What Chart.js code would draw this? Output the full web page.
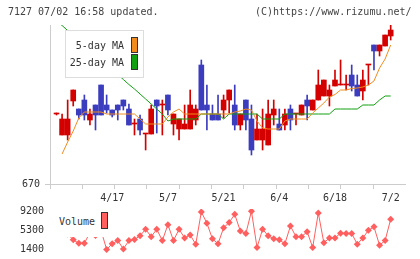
<!DOCTYPE html>
<html><head><meta charset="utf-8">
<script src="https://cdn.jsdelivr.net/npm/chart.js@4.4.1/dist/chart.umd.min.js"></script>
<style>
html,body{margin:0;padding:0;background:#fff;}
#wrap{position:relative;width:420px;height:259px;overflow:hidden;font-family:"DejaVu Sans Mono",monospace;font-size:10px;color:#333;}
canvas{position:absolute;left:0;}
.t{position:absolute;white-space:pre;line-height:12px;}
.box{position:absolute;background:#fff;box-sizing:border-box;}
.sw{position:absolute;border:1px solid #333;box-sizing:border-box;}
</style></head>
<body><div id="wrap">
<canvas id="c1" width="420" height="205" style="top:0;width:420px;height:205px"></canvas>
<canvas id="c2" width="420" height="54" style="top:205px;width:420px;height:54px"></canvas>
<div class="t" style="left:8px;top:6px;color:#444">7127 07/02 16:58 updated.</div>
<div class="t" style="left:255px;top:6px;color:#444">(C)https://www.rizumu.net/</div>
<div class="box" style="left:65px;top:30px;width:79px;height:48px;border:1px solid #ddd"></div>
<div class="t" style="left:0;width:124px;text-align:right;top:40px;color:#333">5-day MA</div>
<div class="sw" style="left:131px;top:37px;width:7px;height:16px;background:#f08c1e"></div>
<div class="t" style="left:0;width:124px;text-align:right;top:57px;color:#333">25-day MA</div>
<div class="sw" style="left:131px;top:54px;width:7px;height:16px;background:#10a010"></div>
<div class="box" style="left:52px;top:205px;width:60px;height:32px"></div>
<div class="t" style="left:59px;top:216px;color:#333">Volume</div>
<div class="sw" style="left:101px;top:212px;width:7px;height:17px;background:#ff5f5f"></div>
</div>
<script>
const dates = ['4/3','4/6','4/7','4/8','4/9','4/10','4/13','4/14','4/15','4/16',
 '4/17','4/20','4/21','4/22','4/23','4/24','4/27','4/28','4/30','5/1',
 '5/7','5/8','5/11','5/12','5/13','5/14','5/15','5/18','5/19','5/20',
 '5/21','5/22','5/25','5/26','5/27','5/28','5/29','6/1','6/2','6/3',
 '6/4','6/5','6/8','6/9','6/10','6/11','6/12','6/15','6/16','6/17',
 '6/18','6/19','6/22','6/23','6/24','6/25','6/26','6/29','6/30','7/1','7/2'];
const labelDates = ['4/17','5/7','5/21','6/4','6/18','7/2'];
const priceTicks = [670];
const volumeTicks = [1400, 5300, 9200];

const open = [740,719,719,753,745,754,734,749,769,749, 744,749,754,745,730,735,720,720,754,749,
 759,730,725,725,725,734,789,749,740,740, 744,754,749,729,754,735,714,714,709,739,
 730,729,745,740,739,754,744,754,758,758, 768,769,769,779,769,763,789,809,803,808, 818];
const high = [741,740,754,764,745,759,745,749,769,759, 744,749,754,750,735,739,720,749,754,754,
 759,740,735,749,764,749,794,769,749,759, 759,764,769,740,754,749,740,745,754,754,
 745,745,749,740,749,759,754,784,774,769, 784,794,779,789,779,784,789,809,809,819, 829];
const low = [739,719,714,748,735,734,729,724,739,741, 737,734,744,729,719,719,704,720,721,719,
 739,719,714,725,725,729,744,724,734,734, 736,741,724,724,724,699,714,704,709,729,
 724,724,724,729,739,734,744,754,758,748, 768,769,764,763,758,754,769,784,798,808, 814];
const close = [740,735,735,764,739,739,740,739,739,744, 739,744,748,729,730,724,720,745,748,749,
 744,740,735,730,749,745,744,744,734,734, 754,764,729,740,734,704,725,725,740,745,
 724,740,734,740,749,748,754,769,774,764, 774,769,769,768,758,774,789,803,809,819, 824];
const ma5 = [null,700,712,723,736,742,742,742,742,740, 740,740,740,740,740,735,730,730,730,730,
 737,742,745,740,740,740,740,740,740,740, 740,740,742,743,745,744,733,726,725,725,
 725,733,735,735,735,735,741,746,751,757, 759.5,764,764,765.5,766,767,769,773,786,795, 809];
const ma25 = [833,828.5,823.5,818.5,814,809,804,799,794,789, 784,779.5,774.5,769.5,765,760,755,750,745,740,
 733,735,735,735,735,735,740,740,740,740, 735,740,740,740,740,740,740,735,735,735,
 735,740,740,740,740,740,740,740,740,740, 745,745,745,745,745,749,749,749,754,758, 758];
const volume = [5000,4600,4500,3300,2600,2600,4800,4200,5200,1350, 2500,3150,1450,3150,3350,4150,5450,3950,5450,3150,
 6400,3150,5450,3700,4300,2400,9000,6700,3500,2500, 5750,6850,8500,5100,4600,9150,1750,5450,4150,3500,
 3300,2500,6100,3950,3950,4950,1750,8800,2700,3700, 3700,4650,4600,4600,2400,3700,5250,5950,2200,3150, 7500];

const RED = '#d40000', BLUE = '#3c3cbe';
const candleColor = dates.map((d,i) => close[i] >= open[i] ? RED : BLUE);
const labelIdx = labelDates.map(d => dates.indexOf(d));

Chart.defaults.font.family = "'DejaVu Sans Mono', monospace";
Chart.defaults.font.size = 10;
Chart.defaults.color = '#333';

const XMIN = -1.17, XMAX = 62.57;
const markStep = 5.8;
const markTicks = [];
for (let v = XMIN; v <= XMAX - 1; v += markStep) markTicks.push(v);
const noPad = ax => { ax.paddingTop = 0; ax.paddingBottom = 0; ax.paddingLeft = 0; ax.paddingRight = 0; };

new Chart(document.getElementById('c1'), {
  type: 'bar',
  data: {
    datasets: [
      { type:'line', label:'5-day MA', data: ma5.map((v,i)=>({x:i,y:v})), borderColor:'#f08c1e', borderWidth:1, pointRadius:0, order:0 },
      { type:'line', label:'25-day MA', data: ma25.map((v,i)=>({x:i,y:v})), borderColor:'#10a010', borderWidth:1, pointRadius:0, order:0 },
      { label:'body', data: dates.map((d,i)=>({x:i,y:[open[i],close[i]]})), backgroundColor:candleColor, barThickness:5, minBarLength:1, grouped:false, order:1 },
      { label:'wick', data: dates.map((d,i)=>({x:i,y:[low[i],high[i]]})), backgroundColor:candleColor, barThickness:1, minBarLength:1, grouped:false, order:2 }
    ]
  },
  options: {
    responsive:false, devicePixelRatio:1, animation:false,
    layout:{ padding:{ top:25, right:15, bottom:0, left:0 } },
    plugins:{ legend:{display:false}, tooltip:{enabled:false} },
    scales:{
      x:{ type:'linear', min:XMIN, max:XMAX, offset:false,
        afterBuildTicks: ax => { ax.ticks = markTicks.concat(labelIdx).map(v=>({value:v})); },
        ticks:{ autoSkip:false, maxRotation:0, minRotation:0, padding:3, color:'#333',
          callback:(v)=>{ const k = labelIdx.indexOf(v); return k>=0 ? labelDates[k] : ''; } },
        grid:{ offset:false, drawOnChartArea:false, tickLength:5, color: c => (c.tick && labelIdx.includes(c.tick.value)) ? 'rgba(0,0,0,0)' : '#cccccc' },
        border:{ color:'#cccccc' },
        afterFit: ax => { ax.height = 21; noPad(ax); }
      },
      y:{ min:670, max:829, beginAtZero:false,
        afterBuildTicks: ax => { ax.ticks = priceTicks.map(v=>({value:v})); },
        ticks:{ padding:5, color:'#333', callback: v => String(v) },
        grid:{ drawOnChartArea:false, tickLength:5, color:'#cccccc' },
        border:{ color:'#cccccc' },
        afterFit: ax => { ax.width = 50; noPad(ax); }
      }
    }
  }
});

new Chart(document.getElementById('c2'), {
  type: 'line',
  data: { datasets: [
    { label:'Volume', data: volume.map((v,i)=>({x:i,y:v})), borderColor:'#ff5f5f', backgroundColor:'#ff5f5f', borderWidth:1,
      pointStyle:'rectRot', pointRadius:3.5, pointBorderWidth:0, pointBackgroundColor:'#ff5f5f' }
  ]},
  options: {
    responsive:false, devicePixelRatio:1, animation:false,
    layout:{ padding:{ top:2, right:15, bottom:6, left:0 } },
    plugins:{ legend:{display:false}, tooltip:{enabled:false} },
    scales:{
      x:{ type:'linear', min:XMIN, max:XMAX, display:false, afterFit: noPad },
      y:{ min:620, max:9590,
        afterBuildTicks: ax => { ax.ticks = volumeTicks.map(v=>({value:v})); },
        ticks:{ padding:6, color:'#333', callback: v => String(v) },
        grid:{ display:false, drawTicks:false },
        border:{ display:false },
        afterFit: ax => { ax.width = 50; noPad(ax); }
      }
    }
  }
});
</script>
</body></html>
